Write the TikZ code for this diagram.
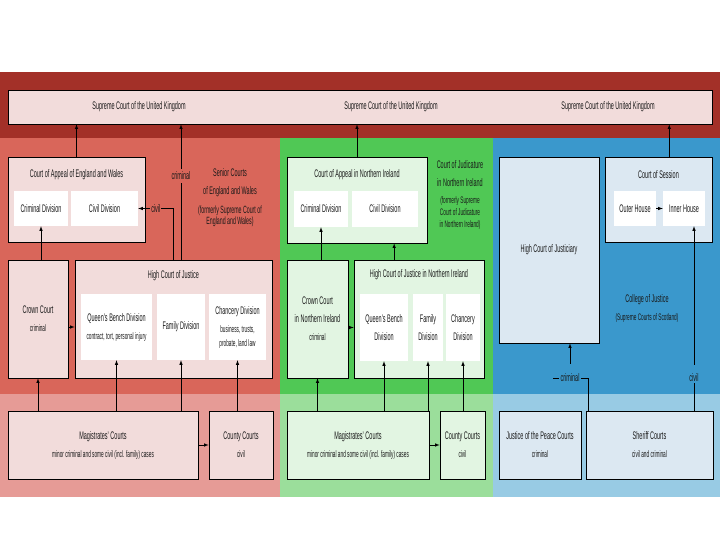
\documentclass[tikz,border=0pt]{standalone}
\usepackage{fontspec}
\setmainfont{Liberation Sans}[FakeStretch=0.5]
\usepackage{xcolor}
\usetikzlibrary{shapes, calc, arrows, positioning}

\definecolor{band}{RGB}{163,48,40}
\definecolor{ewpanel}{RGB}{217,102,90}
\definecolor{ewlow}{RGB}{230,155,150}
\definecolor{ewfill}{RGB}{242,220,219}
\definecolor{nipanel}{RGB}{80,200,85}
\definecolor{nilow}{RGB}{155,222,155}
\definecolor{nifill}{RGB}{226,245,226}
\definecolor{scpanel}{RGB}{58,152,204}
\definecolor{sclow}{RGB}{152,203,228}
\definecolor{scfill}{RGB}{220,232,242}

\newcommand{\courtfont}{\fontsize{11}{18}\selectfont}
\newcommand{\notefont}{\fontsize{9.5}{12}\selectfont}

\tikzset{
        wh/.style 2 args = {minimum width=#1pt, minimum height=#2pt},
        court/.style = {draw, line width=0.7pt, inner sep=1pt,
            align=center, font=\courtfont, text=black!90},
        ewbox/.style = {court, fill=ewfill},
        nibox/.style = {court, fill=nifill},
        scbox/.style = {court, fill=scfill},
        division/.style = {fill=white, inner sep=1pt,
            align=center, font=\courtfont, text=black!90},
        lbl/.style = {inner sep=1pt, align=center, font=\courtfont, text=black!90},
        note/.style = {inner sep=1pt, align=center, font=\notefont, text=black!90},
        arrow/.style = {draw, -latex, line width=0.6pt},
}

\begin{document}
\begin{tikzpicture}[x=1pt, y=-1pt]
\useasboundingbox (0,0) rectangle (720,540);

% jurisdictions
\fill[band] (0,72) rectangle (720,138);
\fill[ewpanel] (0,138) rectangle (280,394);
\fill[ewlow] (0,394) rectangle (280,497);
\fill[nipanel] (280,138) rectangle (493,394);
\fill[nilow] (280,394) rectangle (493,497);
\fill[scpanel] (493,138) rectangle (720,394);
\fill[sclow] (493,394) rectangle (720,497);

% supreme court
\node [ewbox, wh={704}{34}] (uksc) at (360,107) {};
\node [lbl] (ukscew) at (139,107) {Supreme Court of the United Kingdom};
\node [lbl] (ukscni) at (391,107) {Supreme Court of the United Kingdom};
\node [lbl] (ukscsc) at (608,107) {Supreme Court of the United Kingdom};

% England and Wales
\node [ewbox, wh={137}{85}] (caew) at (76.5,199.5) {};
\node [lbl] (caewtitle) at (76.5,175) {Court of Appeal of England and Wales};
\node [division, wh={54}{35}] (caewcrim) at (41,208.5) {Criminal Division};
\node [division, wh={67}{35}] (caewciv) at (104.5,208.5) {Civil Division};
\node [lbl] (senior) at (230,182.5) {Senior Courts\\of England and Wales};
\node [note, font=\fontsize{10.5}{11.5}\selectfont] (seniornote) at (230,216.5) {(formerly Supreme Court of\\England and Wales)};
\node [ewbox, wh={60}{118}] (crown) at (38,319) {Crown Court\\{\notefont criminal}};
\node [ewbox, wh={197}{118}] (hcj) at (173.5,319) {};
\node [lbl] (hcjtitle) at (173.5,276) {High Court of Justice};
\node [division, wh={71}{66}] (qbd) at (116.5,327) {Queen's Bench Division\\{\notefont contract, tort, personal injury}};
\node [division, wh={48}{66}] (fam) at (181,327) {Family Division};
\node [division, wh={57}{66}] (chan) at (237.5,327) {Chancery Division\\{\notefont business, trusts,}\\[-4pt]{\notefont probate, land law}};
\node [ewbox, wh={190}{68}] (mag) at (103,445) {Magistrates' Courts\\{\notefont minor criminal and some civil (incl. family) cases}};
\node [ewbox, wh={64}{68}] (county) at (241,445) {County Courts\\{\notefont civil}};

% Northern Ireland
\node [nibox, wh={140}{86}] (cani) at (357,200) {};
\node [lbl] (canititle) at (357,175) {Court of Appeal in Northern Ireland};
\node [division, wh={54}{36}] (crimni) at (321,209) {Criminal Division};
\node [division, wh={66}{36}] (civni) at (385,209) {Civil Division};
\node [lbl] (judicature) at (460,174) {Court of Judicature\\in Northern Ireland};
\node [note] (judicaturenote) at (460,213) {(formerly Supreme\\Court of Judicature\\in Northern Ireland)};
\node [nibox, wh={61}{118}] (crownni) at (317.5,319) {Crown Court\\in Northern Ireland\\{\notefont criminal}};
\node [nibox, wh={130}{118}] (hcni) at (419,319) {};
\node [lbl] (hcnititle) at (419,275) {High Court of Justice in Northern Ireland};
\node [division, wh={48}{67}] (qbdni) at (384,327.5) {Queen's Bench\\Division};
\node [division, wh={30}{67}] (famni) at (428,327.5) {Family\\Division};
\node [division, wh={34}{67}] (channi) at (463,327.5) {Chancery\\Division};
\node [nibox, wh={142}{68}] (magni) at (358,445) {Magistrates' Courts\\{\notefont minor criminal and some civil (incl. family) cases}};
\node [nibox, wh={45}{68}] (countyni) at (462.5,445) {County Courts\\{\notefont civil}};

% Scotland
\node [scbox, wh={100}{186}] (hcjy) at (549,250) {High Court of Justiciary};
\node [scbox, wh={107}{85}] (cos) at (658.5,199.5) {};
\node [lbl] (costitle) at (658.5,175) {Court of Session};
\node [division, wh={42}{35}] (outer) at (635,208.5) {Outer House};
\node [division, wh={42}{35}] (inner) at (684,208.5) {Inner House};
\node [lbl] (college) at (647,308) {College of Justice\\{\notefont (Supreme Courts of Scotland)}};
\node [scbox, wh={82}{68}] (jp) at (540,445) {Justice of the Peace Courts\\{\notefont criminal}};
\node [scbox, wh={127}{68}] (sheriff) at (649.5,445) {Sheriff Courts\\{\notefont civil and criminal}};

% appeals, England and Wales
\draw [arrow] (caew.north) -- (caew.north |- uksc.south);
\draw [arrow] (hcj.north -| fam.north) -- node[lbl, fill=ewpanel, inner sep=3pt, pos=0.62] (ewcrim) {criminal} (fam.north |- uksc.south);
\draw [arrow] (hcj.north) |- node[lbl, fill=ewpanel, pos=0.75] (ewciv) {civil} (caewciv.east);
\draw [arrow] (caewcrim.south |- crown.north) -- (caewcrim.south);
\draw [arrow] (crown.east |- qbd.center) -- (hcj.west |- qbd.center);
\draw [arrow] (mag.north -| crown.south) -- (crown.south);
\draw [arrow] (mag.north -| qbd.south) -- (qbd.south);
\draw [arrow] (mag.north -| fam.south) -- (fam.south);
\draw [arrow] (county.north -| chan.south) -- (chan.south);
\draw [arrow] (mag.east) -- (county.west);

% appeals, Northern Ireland
\coordinate (hcniup) at ($(hcni.north west)!0.31!(hcni.north east)$);
\draw [arrow] (cani.north) -- (cani.north |- uksc.south);
\draw [arrow] (hcniup) -- (hcniup |- cani.south);
\draw [arrow] (crimni.south |- crownni.north) -- (crimni.south);
\draw [arrow] (crownni.east |- qbdni.center) -- (hcni.west |- qbdni.center);
\draw [arrow] (magni.north -| crownni.south) -- (crownni.south);
\draw [arrow] (magni.north -| qbdni.south) -- (qbdni.south);
\draw [arrow] (magni.north -| famni.south) -- (famni.south);
\draw [arrow] (countyni.north -| channi.south) -- (channi.south);
\draw [arrow] (magni.east) -- (countyni.west);

% appeals, Scotland
\coordinate (cosup) at ($(cos.north west)!0.6!(cos.north east)$);
\coordinate (crimjoin) at (588,378);
\coordinate (crimend) at (553,378);
\draw [arrow] (cosup) -- (cosup |- uksc.south);
\draw [arrow] (outer.east) -- (inner.west);
\draw [line width=0.6pt] (sheriff.north -| crimjoin) |- (crimend);
\node [lbl, fill=scpanel, inner sep=2pt] (sccrim) at (570,378) {criminal};
\node [lbl, fill=scpanel] (scciv) at (694,378) {civil};
\draw [arrow, shorten <=8pt] (sccrim) -- (sccrim |- hcjy.south);
\draw [line width=0.6pt] (sheriff.north -| scciv) -- (scciv);
\draw [arrow, shorten <=8pt] (scciv) -- (scciv |- inner.south);
\end{tikzpicture}
\end{document}
